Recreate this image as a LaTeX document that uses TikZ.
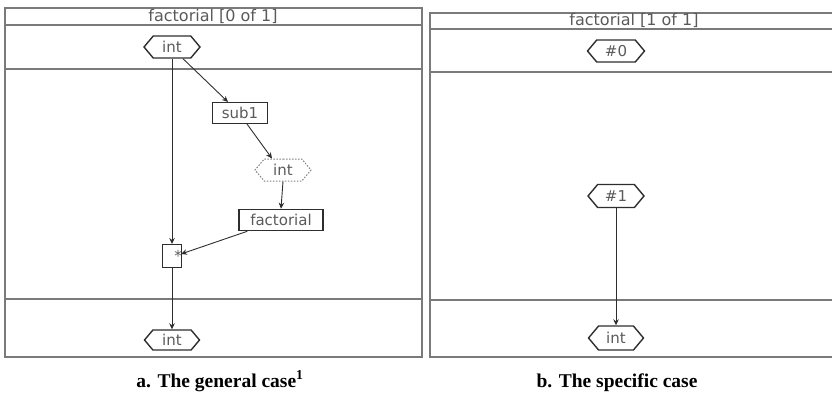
\documentclass[tikz,border=0pt]{standalone}
\usepackage{fontspec}
\setmainfont{Liberation Serif}
\newfontfamily\diafont{DejaVu Sans}
\usetikzlibrary{shapes.symbols,arrows.meta,calc}
\definecolor{linec}{HTML}{2E2E2E}
\definecolor{framec}{HTML}{7A7A7A}
\definecolor{textc}{HTML}{5A5A5A}
\tikzset{
  hexa/.style={signal, signal to=west and east, signal pointer angle=100, draw=linec, line width=1.4pt,
    minimum width=56pt, minimum height=22pt, inner sep=0pt, text=textc, font=\diafont\fontsize{15}{15}\selectfont},
  dhexa/.style={hexa, draw=gray, dash pattern=on 1.5pt off 1.5pt, line width=1pt},
  opbox/.style={rectangle, draw=linec, line width=1pt, minimum height=21pt, inner sep=0pt,
    text=textc, font=\diafont\fontsize{15}{15}\selectfont},
  conn/.style={draw=linec, line width=0.9pt, -{Stealth[length=6pt,width=5.5pt]}},
  frame/.style={draw=framec, line width=1.4pt},
  ttl/.style={text=textc, font=\diafont\fontsize{16}{16}\selectfont, anchor=base, inner sep=0pt},
  capt/.style={font=\fontsize{19.5}{20}\selectfont\bfseries, anchor=base, inner sep=0pt}
}
\begin{document}
\begin{tikzpicture}[x=1pt,y=-1pt]
\useasboundingbox (0,0) rectangle (832,392);
\begin{scope}
\clip (0,0) rectangle (832,392);
% left panel
\draw[frame] (5,8) rectangle (422,357);
\draw[frame] (5,25) -- (422,25);
\draw[frame] (5,69) -- (422,69);
\draw[frame] (5,299) -- (422,299);
% right panel
\draw[frame] (840,13) -- (430,13) -- (430,357) -- (840,357);
\draw[frame] (430,29) -- (840,29);
\draw[frame] (430,72) -- (840,72);
\draw[frame] (430,300) -- (840,300);
\end{scope}
\node[ttl] (t1) at (213,21) {factorial [0 of 1]};
\node[ttl] (t2) at (634,25) {factorial [1 of 1]};
% left graph
\node[hexa] (inA) at (172,47) {int};
\node[opbox, minimum width=55pt] (sub) at (240,113) {sub1};
\node[dhexa] (inB) at (283,170) {int};
\node[opbox, minimum width=84pt, line width=1.6pt] (fac) at (281,220) {factorial};
\node[opbox, minimum width=19pt, minimum height=23pt,
      label={[text=textc, font=\diafont\fontsize{15}{15}\selectfont, inner sep=0pt]center:{\hspace*{12pt}*}}] (mul) at (172,256) {};
\node[hexa, minimum width=55pt, minimum height=20pt] (outA) at (172,340) {int};
\draw[conn] (inA.south) -- (mul.north);
\draw[conn] ($(inA.south)+(11,0)$) -- ($(sub.north)+(-12,0)$);
\draw[conn] ($(sub.south)+(7,0)$) -- ($(inB.north)+(-11,0)$);
\draw[conn] (inB.south) -- (fac.north);
\draw[conn] ($(fac.south west)+(9,0)$) -- ($(mul.east)+(-1,-2)$);
\draw[conn] (mul.south) -- (outA.north);
% right graph
\node[hexa, minimum width=57pt] (c0) at (616,51) {\#0};
\node[hexa, minimum height=23pt] (c1) at (616,196) {\#1};
\node[hexa, minimum width=55pt, minimum height=24pt] (outB) at (616,338) {int};
\draw[conn] (c1.south) -- (outB.north);
% captions
\node[capt] (ca) at (220,387) {a. The general case\textsuperscript{1}};
\node[capt] (cb) at (617,387) {b. The specific case};
\end{tikzpicture}
\end{document}
